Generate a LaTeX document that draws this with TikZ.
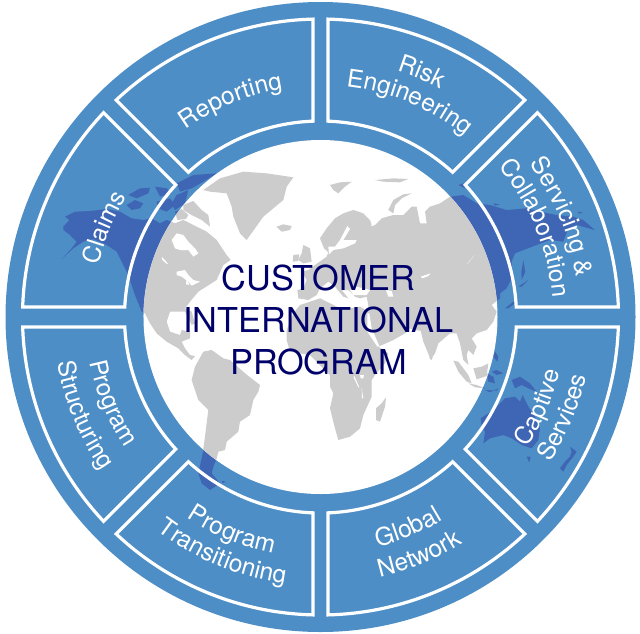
\documentclass[tikz,border=0pt]{standalone}
\usepackage{fontspec}
\setmainfont{TeX Gyre Heros}
\usetikzlibrary{decorations.text}
\definecolor{ringblue}{HTML}{4E8EC6}
\definecolor{landblue}{HTML}{3F66B5}
\definecolor{landgray}{HTML}{CCCCCC}
\definecolor{navytext}{HTML}{00006B}
\newcommand\poly[1]{\fill[landc] plot coordinates {#1} -- cycle;}
\newcommand\hole[1]{\fill[white] plot coordinates {#1} -- cycle;}
\tikzset{
  zoomfive/.style={shift={(60,-165)},x=0.33333pt,y=-0.33333pt},
  zoomone/.style={shift={(0,-100)},x=0.33333pt,y=-0.33333pt},
  zoomsix/.style={shift={(260,-165)},x=0.33333pt,y=-0.33333pt},
  zoomeight/.style={shift={(130,-320)},x=0.33333pt,y=-0.33333pt},
  zoomten/.style={shift={(440,-320)},x=0.33333pt,y=-0.33333pt},
  segment/.style={draw=white,line width=3.2pt,miter limit=10},
}
\newcommand\landshapes{%
 \begin{scope}[zoomfive]
  % North America
  \poly{(10,185)(28,165)(15,155)(45,140)(90,138)(140,132)(180,140)(215,160)(250,165)(275,160)(300,175)(320,165)(345,175)(370,165)(400,180)(440,200)(470,225)(500,270)(512,285)(490,300)(470,345)(415,380)(390,410)(375,430)(395,440)(405,475)(395,480)(375,440)(330,440)(320,470)(330,500)(360,510)(365,495)(390,500)(390,520)(365,530)(375,550)(390,570)(405,573)(395,585)(375,570)(355,550)(320,530)(290,505)(270,475)(255,445)(245,440)(225,390)(205,330)(185,290)(170,260)(140,240)(100,222)(70,230)(40,250)(5,282)(35,250)(50,230)(30,210)(10,195)}
  % Arctic islands
  \poly{(200,120)(225,105)(250,115)(240,130)(215,135)}
  \poly{(205,90)(240,70)(270,68)(265,85)(230,100)}
  \poly{(285,65)(320,70)(335,85)(300,95)}
  \poly{(290,110)(330,100)(345,120)(320,140)(295,130)}
  \poly{(350,55)(400,30)(470,25)(430,50)(395,70)(360,80)}
  \poly{(350,90)(385,75)(375,115)(345,135)(335,115)}
  \poly{(370,120)(400,108)(425,135)(445,150)(450,185)(425,165)(395,150)(370,135)}
  \poly{(345,140)(365,132)(385,150)(378,162)(352,165)}
 \end{scope}
 \begin{scope}[zoomone]
  % Greenland
  \poly{(610,270)(660,235)(730,215)(800,220)(880,232)(860,260)(850,300)(790,350)(740,420)(720,400)(700,350)(695,320)(680,280)(630,275)}
 \end{scope}
 \begin{scope}[zoomsix]
  \poly{(50,185)(70,178)(95,183)(90,195)(65,200)}
  \poly{(210,60)(240,52)(275,50)(255,65)(235,85)(220,75)}
  \poly{(345,45)(400,40)(445,42)(420,52)(370,50)}
  \poly{(385,135)(400,105)(430,88)(455,85)(425,100)(405,120)(400,145)}
  \poly{(130,240)(150,250)(155,290)(130,295)(115,285)(125,265)}
  \poly{(100,270)(118,268)(115,288)(98,290)}
  % Eurasia and Africa
  \poly{(165,300)(145,315)(125,320)(140,345)(130,370)(112,375)(115,400)(145,405)(170,390)(180,370)(205,350)(225,365)(250,395)(265,400)(245,375)(265,375)(285,395)(300,400)(320,395)(325,420)(325,440)(300,425)(270,430)(240,430)(210,415)(180,400)(150,410)(120,420)(100,445)(80,495)(80,525)(90,560)(150,570)(210,630)(210,665)(220,685)(210,730)(225,790)(235,825)(270,815)(300,790)(310,750)(335,695)(335,645)(345,630)(375,595)(385,565)(355,545)(400,525)(435,505)(450,490)(440,485)(460,495)(482,497)(490,530)(512,583)(525,565)(535,535)(570,505)(590,505)(600,535)(610,585)(625,600)(620,570)(625,555)(640,570)(650,545)(635,520)(650,505)(680,495)(700,470)(710,440)(695,420)(720,400)(720,385)(740,370)(755,340)(755,290)(765,265)(830,240)(870,225)(910,230)(925,190)(950,180)(1005,195)(970,165)(940,155)(890,150)(840,140)(800,130)(740,135)(690,120)(650,115)(610,90)(570,95)(540,115)(510,125)(495,140)(500,175)(480,175)(470,125)(455,125)(430,150)(400,150)(365,160)(345,180)(330,185)(335,180)(330,165)(310,145)(280,135)(250,145)(225,160)(200,190)(180,220)(192,250)(205,262)(200,275)}
  % Madagascar, Sri Lanka
  \poly{(378,697)(375,725)(360,770)(348,765)(348,730)(365,715)}
  \poly{(510,570)(518,577)(515,585)(508,580)}
  % Japan, Sakhalin and small islands
  \poly{(735,430)(760,410)(765,415)(745,430)}
  \poly{(775,365)(805,345)(785,365)}
  \poly{(790,285)(796,320)(785,345)(784,320)}
  \poly{(610,55)(595,60)(615,70)}
  \poly{(700,115)(720,118)(705,122)}
  \poly{(955,140)(970,143)(955,146)}
 \end{scope}
 \begin{scope}[zoomten]
  % Indonesia, Philippines
  \poly{(40,122)(55,125)(85,165)(95,190)(80,185)(55,155)}
  \poly{(100,145)(125,140)(145,130)(140,168)(110,178)}
  \poly{(85,190)(110,195)(135,205)(105,202)}
  \poly{(140,160)(160,170)(165,190)(145,185)}
  \poly{(155,155)(170,150)(190,160)(170,165)}
  \poly{(135,210)(170,212)(175,205)(150,217)}
  \poly{(165,95)(175,110)(172,125)(160,110)}
  \poly{(215,180)(240,170)(270,190)(290,215)(265,205)(245,195)(225,205)}
  % Australia, Tasmania, New Zealand
  \poly{(122,295)(145,280)(165,265)(195,235)(225,230)(240,245)(248,225)(265,260)(285,290)(300,325)(295,360)(275,385)(245,375)(215,355)(190,345)(150,355)(130,370)(135,335)(125,320)}
  \poly{(260,410)(272,410)(268,428)}
  \poly{(360,445)(375,425)(390,410)(395,395)(390,380)(410,395)(400,410)(380,435)(370,455)}
 \end{scope}
 \begin{scope}[zoomeight]
  % South America
  \poly{(185,180)(195,140)(220,95)(245,90)(280,115)(300,120)(345,160)(390,195)(385,215)(370,240)(360,285)(330,305)(325,335)(290,365)(285,390)(265,395)(260,415)(250,440)(245,460)(270,490)(240,510)(215,490)(205,460)(218,400)(225,350)(235,270)(205,240)}
  \poly{(275,482)(287,485)(278,490)}
 \end{scope}
}
\newcommand\waterholes{%
 \begin{scope}[zoomfive]
  \hole{(335,225)(350,205)(370,210)(385,230)(405,250)(415,265)(400,275)(385,255)(360,255)(345,250)}
  \hole{(350,320)(375,315)(385,330)(400,345)(420,350)(395,362)(385,350)(365,335)(350,330)}
  \hole{(380,340)(388,360)(378,358)}
  \hole{(305,275)(315,285)(325,298)(318,295)(307,285)}
  \hole{(252,448)(268,478)(262,478)(250,455)}
 \end{scope}
 \begin{scope}[zoomsix]
  \hole{(262,183)(270,192)(250,225)(290,225)(285,235)(250,250)(220,255)(207,268)(205,245)(225,245)(240,225)}
  \hole{(270,375)(290,365)(330,375)(320,390)(280,390)}
  \hole{(378,375)(395,378)(400,395)(385,395)}
  \hole{(482,335)(512,325)(505,333)(488,340)}
  \hole{(620,297)(645,270)(625,293)}
  \hole{(322,445)(328,445)(335,490)(358,543)(352,545)(322,500)}
  \hole{(283,633)(298,667)(295,667)(281,637)}
  \hole{(305,670)(310,700)(306,700)}
  \hole{(300,630)(312,630)(310,640)(302,640)}
 \end{scope}
}
\begin{document}
\begin{tikzpicture}[x=1pt,y=1pt]
\useasboundingbox (0,0) rectangle (640,-633);
\coordinate (centre) at (320.5,-317);
\fill[ringblue] (centre) circle[radius=315];
\begin{scope}
 \clip (centre) circle[radius=315];
 \colorlet{landc}{landblue}
 \landshapes
\end{scope}
\fill[white] (centre) circle[radius=177];
\begin{scope}
 \clip (centre) circle[radius=177];
 \colorlet{landc}{landgray}
 \landshapes
 \waterholes
\end{scope}
\begin{scope}[shift={(centre)}]
 \def\Ro{298}\def\Ri{196}
 \foreach \a/\b/\da/\db in {0/45/10/9,45/90/9/7.5,90/135/7.5/9,135/180/9/10,180/225/10/9,225/270/9/7.5,270/315/7.5/9,315/360/9/10}{
  \pgfmathsetmacro\oa{\a+asin(\da/\Ro)}
  \pgfmathsetmacro\ob{\b-asin(\db/\Ro)}
  \pgfmathsetmacro\ia{\a+asin(\da/\Ri)}
  \pgfmathsetmacro\ib{\b-asin(\db/\Ri)}
  \draw[segment] (\oa:\Ro) arc[start angle=\oa,end angle=\ob,radius=\Ro] -- (\ib:\Ri) arc[start angle=\ib,end angle=\ia,radius=\Ri] -- cycle;
 }
 \def\ringfont{\fontsize{24.5}{24.5}\selectfont\color{white}}
 % clockwise labels (tops outward)
 \foreach \mid/\rad/\txt in {112.5/231/Reporting,67.5/258/Risk,67.5/232/Engineering,157.5/228/Claims,22.5/233/Collaboration}{
  \pgfmathsetmacro\st{\mid+42}
  \pgfmathsetmacro\en{\mid-42}
  \path[decorate,decoration={text along path,text align=center,text={|\ringfont|\txt}}] (\st:\rad) arc[start angle=\st,end angle=\en,radius=\rad];
 }
 \path[decorate,decoration={text along path,text align=center,text={|\ringfont|Servicing {\&}}}] (64.5:259) arc[start angle=64.5,end angle=-19.5,radius=259];
 % counter-clockwise labels (tops inward)
 \foreach \mid/\rad/\txt in {-22.5/245/Captive,-22.5/272/Services,-67.5/237/Global,-67.5/267/Network,-112.5/241/Program,-112.5/269/Transitioning,-157.5/235/Program,-157.5/267/Structuring}{
  \pgfmathsetmacro\st{\mid-42}
  \pgfmathsetmacro\en{\mid+42}
  \path[decorate,decoration={text along path,text align=center,text={|\ringfont|\txt}}] (\st:\rad) arc[start angle=\st,end angle=\en,radius=\rad];
 }
\end{scope}
\node[text=navytext,font=\fontsize{34.3}{34.3}\selectfont] (lineone) at (318.5,-278) {CUSTOMER};
\node[text=navytext,font=\fontsize{34.3}{34.3}\selectfont] (linetwo) at (318.5,-320) {INTERNATIONAL};
\node[text=navytext,font=\fontsize{34.3}{34.3}\selectfont] (linethree) at (318.5,-362) {PROGRAM};
\end{tikzpicture}
\end{document}
